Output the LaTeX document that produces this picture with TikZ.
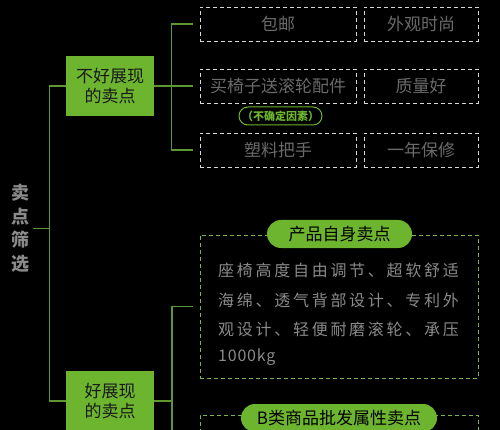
\documentclass[tikz,border=0pt]{standalone}
\usepackage{fontspec}
\setmainfont{Noto Sans CJK SC}
\newfontfamily\spaced[LetterSpace=17]{Noto Sans CJK SC}
\newfontfamily\spacedlat[LetterSpace=5]{Noto Sans CJK SC}
\definecolor{gfill}{HTML}{6DB52E}
\definecolor{gline}{HTML}{5E9630}
\definecolor{gdash}{HTML}{7DB544}
\definecolor{wdash}{HTML}{D8D8D8}
\definecolor{tgrey}{HTML}{6A6A6A}
\definecolor{bgrey}{HTML}{8A8A8A}
\begin{document}
\begin{tikzpicture}[x=1pt,y=-1pt,
 greenbox/.style={fill=gfill, minimum width=88pt, minimum height=60pt, inner sep=0pt, align=center, font=\fontsize{17}{20}\selectfont, text=black!90},
 wbox/.style={draw=wdash, dash pattern=on 4pt off 3pt, line width=0.9pt, minimum height=34pt, inner sep=0pt, text=tgrey, font=\fontsize{17}{20}\selectfont},
 gbox/.style={draw=gdash, dash pattern=on 4pt off 3pt, line width=0.9pt, inner sep=0pt, minimum width=278pt},
 pill/.style={fill=gfill, rounded corners=14pt, minimum height=28pt, inner sep=0pt, text=black, font=\fontsize{17}{20}\selectfont},
 conn/.style={draw=gline, line width=1.2pt},
 body/.style={anchor=west, inner sep=0pt, text=bgrey, font=\spaced\fontsize{16}{20}\selectfont}
]
\useasboundingbox (0,0) rectangle (500,430);
\fill[black] (0,0) rectangle (500,430);
\clip (0,0) rectangle (500,430);

% title
\node[align=center, text=bgrey, inner sep=2pt, font=\bfseries\fontsize{18}{23.5}\selectfont] (title) at (20,228.5) {卖\\点\\筛\\选};
\coordinate (lx) at (50,0);

% green boxes
\node[greenbox] (b1) at (110,86) {不好展现\\的卖点};
\node[greenbox] (b2) at (110,401) {好展现\\的卖点};

% top dashed boxes
\node[wbox, minimum width=156pt] (a1) at (278,24) {包邮};
\node[wbox, minimum width=114pt] (a2) at (421,24) {外观时尚};
\node[wbox, minimum width=156pt] (m1) at (278,86) {买椅子送滚轮配件};
\node[wbox, minimum width=114pt] (m2) at (421,86) {质量好};
\node[wbox, minimum width=156pt] (c1) at (278,150) {塑料把手};
\node[wbox, minimum width=114pt] (c2) at (421,150) {一年保修};

\node[draw=gfill, line width=1pt, rounded corners=9pt, minimum width=83pt, minimum height=18pt, inner sep=0pt, text=gfill, font=\bfseries\fontsize{11}{12}\selectfont] (unc) at (280.5,116) {（不确定因素）};

% green dashed boxes
\node[gbox, minimum height=143pt] (d) at (339,306.5) {};
\node[gbox, minimum height=60pt] (e) at (339,445) {};
\node[pill, minimum width=145pt] (p1) at (339.5,234) {产品自身卖点};
\node[pill, minimum width=196pt] (p2) at (339,418) {B类商品批发属性卖点};

\node[body] (l1) at (218,270) {座椅高度自由调节、超软舒适};
\node[body] (l2) at (218,300) {海绵、透气背部设计、专利外};
\node[body] (l3) at (218,329) {观设计、轻便耐磨滚轮、承压};
\node[body, font=\spacedlat\fontsize{16}{20}\selectfont] (l4) at (218,357) {1000kg};

% connectors
\coordinate (bot) at (172,445);
\draw[conn] (b1.west) -- ++(-16,0) |- (b2.west);
\draw[conn] ([xshift=2pt]title.east) -- (title.east -| lx);
\draw[conn] ([xshift=-7pt]a1.west) -| ([xshift=-28pt]c1.west) -- ([xshift=-7pt]c1.west);
\draw[conn] (b1.east) -- ([xshift=-7pt]m1.west);
\draw[conn] ([xshift=-7pt]d.west) -| (bot);
\draw[conn] (b2.east) -- (b2.east -| bot);
\end{tikzpicture}
\end{document}
